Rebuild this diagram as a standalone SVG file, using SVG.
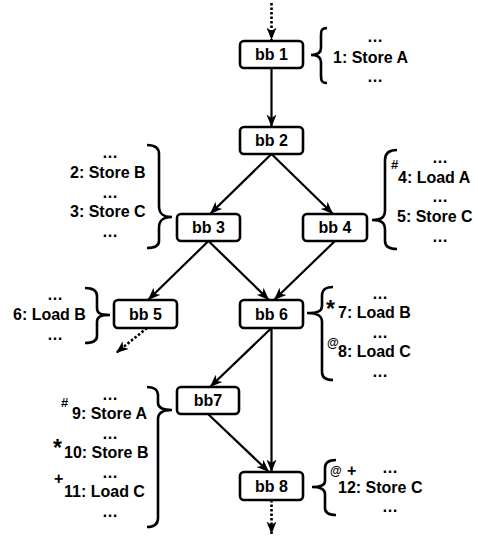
<svg xmlns="http://www.w3.org/2000/svg" width="478" height="536" viewBox="0 0 478 536">
<defs>
<style>
.box{fill:#fff;stroke:#000;stroke-width:2.6}
.bl{font-family:"Liberation Sans",Arial,sans-serif;font-weight:bold;font-size:16px;fill:#000;text-anchor:middle}
.t{font-family:"Liberation Sans",Arial,sans-serif;font-weight:bold;font-size:16px;fill:#000}
.m{text-anchor:middle}
.sup{font-family:"Liberation Sans",Arial,sans-serif;font-weight:bold;fill:#000}
.e{fill:none;stroke:#000;stroke-width:2.2}
.d{fill:none;stroke:#000;stroke-width:2.6;stroke-dasharray:2.5,2}
.br{fill:none;stroke:#000;stroke-width:2.6}
</style>
<marker id="ah" viewBox="0 0 13 11" refX="12.5" refY="5.5" markerWidth="13" markerHeight="11" markerUnits="userSpaceOnUse" orient="auto">
<path d="M0,0.5 L12.5,5.5 L0,10.5 L3.5,5.5 z" fill="#000"/>
</marker>
</defs>
<g id="connectors">
<line class="d" x1="271.5" y1="3" x2="271.5" y2="40" marker-end="url(#ah)"/>
<line class="e" x1="271.5" y1="68" x2="271.5" y2="127" marker-end="url(#ah)"/>
<line class="e" x1="271.5" y1="154" x2="210" y2="214" marker-end="url(#ah)"/>
<line class="e" x1="271.5" y1="154" x2="333" y2="214" marker-end="url(#ah)"/>
<line class="e" x1="208.5" y1="241" x2="148" y2="300" marker-end="url(#ah)"/>
<line class="e" x1="208.5" y1="241" x2="269" y2="300" marker-end="url(#ah)"/>
<line class="e" x1="335" y1="241" x2="274" y2="300" marker-end="url(#ah)"/>
<line class="d" x1="147" y1="328" x2="116" y2="353" marker-end="url(#ah)"/>
<line class="e" x1="271.5" y1="328" x2="210" y2="387" marker-end="url(#ah)"/>
<line class="e" x1="271.5" y1="328" x2="271.5" y2="472" marker-end="url(#ah)"/>
<line class="e" x1="208" y1="414" x2="269" y2="472" marker-end="url(#ah)"/>
<line class="d" x1="271.5" y1="500" x2="271.5" y2="534" marker-end="url(#ah)"/>
</g>
<g id="bb1">
<rect class="box" x="240" y="41" width="63" height="27" rx="4"/>
<text class="bl" x="271.5" y="60">bb 1</text>
<path class="br" d="M327,28 C321,28 321,31 321,37 L321,48 C321,53 318,55 311,55 C318,55 321,57 321,62 L321,74 C321,80 321,83 327,83"/>
<text class="t m" x="375" y="42">…</text>
<text class="t" x="333" y="63">1: Store A</text>
<text class="t m" x="375" y="82">…</text>
</g>
<g id="bb2">
<rect class="box" x="240" y="127" width="63" height="27" rx="4"/>
<text class="bl" x="271.5" y="146">bb 2</text>
</g>
<g id="bb3">
<rect class="box" x="177" y="214" width="63" height="27" rx="4"/>
<text class="bl" x="208.5" y="233">bb 3</text>
<path class="br" d="M147,145 C154,145 159,147 159,154 L159,206 C159,213 162,217 172,217 C162,217 159,221 159,228 L159,241 C159,246 154,248 147,248"/>
<text class="t m" x="110" y="158">…</text>
<text class="t" x="70" y="178">2: Store B</text>
<text class="t m" x="110" y="198">…</text>
<text class="t" x="70" y="217">3: Store C</text>
<text class="t m" x="110" y="237">…</text>
</g>
<g id="bb4">
<rect class="box" x="303" y="214" width="64" height="27" rx="4"/>
<text class="bl" x="335" y="233">bb 4</text>
<path class="br" d="M397,150 C390,150 385,152 385,160 L385,210 C385,217 382,220 372,220 C382,220 385,223 385,230 L385,241 C385,247 390,249 397,249"/>
<text class="sup" x="391" y="169" font-size="13">#</text>
<text class="t m" x="440" y="163">…</text>
<text class="t" x="398" y="183">4: Load A</text>
<text class="t m" x="440" y="202">…</text>
<text class="t" x="397" y="222">5: Store C</text>
<text class="t m" x="440" y="242">…</text>
</g>
<g id="bb5">
<rect class="box" x="114" y="300" width="63" height="28" rx="4"/>
<text class="bl" x="145.5" y="320">bb 5</text>
<path class="br" d="M85,288 C92,288 97,290 97,296 L97,308 C97,313 100,315 110,315 C100,315 97,317 97,322 L97,336 C97,341 92,343 85,343"/>
<text class="t m" x="55" y="300">…</text>
<text class="t" x="13" y="320">6: Load B</text>
<text class="t m" x="55" y="340">…</text>
</g>
<g id="bb6">
<rect class="box" x="240" y="300" width="63" height="28" rx="4"/>
<text class="bl" x="271.5" y="320">bb 6</text>
<path class="br" d="M333,287 C326,287 322,289 322,296 L322,306 C322,311 318,313 307,313 C318,313 322,316 322,322 L322,372 C322,378 326,380 333,380"/>
<text class="sup" x="326" y="317" font-size="23">*</text>
<text class="t m" x="380" y="299">…</text>
<text class="t" x="338" y="318">7: Load B</text>
<text class="sup" x="327" y="347" font-size="12">@</text>
<text class="t m" x="380" y="338">…</text>
<text class="t" x="338" y="357">8: Load C</text>
<text class="t m" x="380" y="377">…</text>
</g>
<g id="bb7">
<rect class="box" x="177" y="387" width="62" height="27" rx="4"/>
<text class="bl" x="208" y="406">bb7</text>
<path class="br" d="M147,387 C154,387 158,389 158,396 L158,403 C158,408 162,410 172,410 C162,410 158,413 158,419 L158,518 C158,524 154,527 147,527"/>
<text class="sup" x="61" y="407" font-size="13">#</text>
<text class="t m" x="110" y="400">…</text>
<text class="t" x="72" y="419">9: Store A</text>
<text class="sup" x="53" y="456" font-size="23">*</text>
<text class="t m" x="110" y="439">…</text>
<text class="t" x="64" y="458">10: Store B</text>
<text class="sup" x="54" y="484" font-size="16">+</text>
<text class="t m" x="110" y="478">…</text>
<text class="t" x="64" y="497">11: Load C</text>
<text class="t m" x="110" y="517">…</text>
</g>
<g id="bb8">
<rect class="box" x="240" y="472" width="63" height="28" rx="4"/>
<text class="bl" x="271.5" y="492">bb 8</text>
<path class="br" d="M336,460 C329,460 325,462 325,468 L325,481 C325,485 321,487 312,487 C321,487 325,489 325,494 L325,508 C325,513 329,515 336,515"/>
<text class="sup" x="330" y="475" font-size="12">@</text>
<text class="sup" x="347" y="476" font-size="16">+</text>
<text class="t m" x="390" y="473">…</text>
<text class="t" x="338" y="493">12: Store C</text>
<text class="t m" x="390" y="512">…</text>
</g>
</svg>
